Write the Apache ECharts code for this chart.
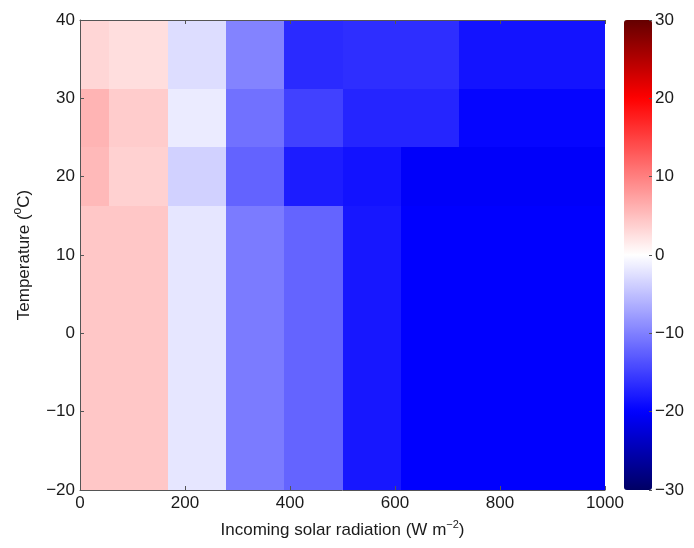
<!DOCTYPE html>
<html>
<head>
<meta charset="utf-8">
<script src="https://cdn.jsdelivr.net/npm/echarts@6/dist/echarts.min.js"></script>
<style>
html,body{margin:0;padding:0;background:#fff;}
#c{width:694px;height:548px;}
</style>
</head>
<body>
<div id="c"></div>
<script>
// Bin edges of the cells (solar radiation, W m-2) and temperature (deg C)
const radiationEdges = [0, 55.6, 166.7, 277.8, 388.9, 500, 611.1, 722.2, 833.3, 944.4, 1000];
const temperatureEdges = [-20, 16.25, 23.75, 31.25, 40];

// Cell values, one array per temperature band (bottom to top), one value per radiation bin
const bandBelow16 = [4.4, 4.4, -2.0, -10.4, -12.2, -18.2, -20.0, -20.0, -20.0, -20.0];
const band16to24  = [5.5, 3.6, -3.6, -12.3, -17.8, -18.6, -20.3, -20.3, -20.3, -20.3];
const band24to31  = [5.9, 4.0, -1.6, -11.2, -14.9, -17.1, -17.1, -19.6, -19.6, -19.6];
const band31to40  = [3.2, 2.6, -2.7, -9.8, -16.7, -16.4, -16.4, -18.5, -18.5, -18.5];
const bands = [bandBelow16, band16to24, band24to31, band31to40];

const xTicks = {min: 0, max: 1000, interval: 200};
const yTicks = {min: -20, max: 40, interval: 10};
const cbTicks = {min: -30, max: 30, interval: 10};

const data = [];
bands.forEach((row, yi) => row.forEach((v, xi) => data.push([xi, yi, v])));

const FONT = 'Liberation Sans, Arial, Helvetica, sans-serif';
const minus = v => String(v).replace('-', '\u2212');

const chart = echarts.init(document.getElementById('c'), null, {renderer: 'canvas'});

function renderItem(params, api) {
  const xi = api.value(0), yi = api.value(1);
  const p0 = api.coord([radiationEdges[xi], temperatureEdges[yi + 1]]);
  const p1 = api.coord([radiationEdges[xi + 1], temperatureEdges[yi]]);
  const x0 = Math.round(p0[0]), y0 = Math.round(p0[1]);
  const x1 = Math.round(p1[0]), y1 = Math.round(p1[1]);
  return {
    type: 'rect',
    shape: {x: x0, y: y0, width: x1 - x0, height: y1 - y0},
    style: {fill: api.visual('color')}
  };
}

const labelStyle = {color: '#1a1a1a', fontSize: 17, fontFamily: FONT};

chart.setOption({
  animation: false,
  backgroundColor: '#fff',
  grid: [
    {left: 80, top: 20, width: 525, height: 470},
    {left: 624, top: 20, width: 28, height: 470, show: false}
  ],
  xAxis: [
    {
      type: 'value', gridIndex: 0, min: xTicks.min, max: xTicks.max, interval: xTicks.interval,
      name: 'Incoming solar radiation (W m{sup|\u22122})',
      nameLocation: 'middle', nameGap: 29,
      nameTextStyle: {color: '#1a1a1a', fontSize: 17, fontFamily: FONT,
        rich: {sup: {fontSize: 11, fontFamily: FONT, color: '#1a1a1a', verticalAlign: 'top', padding: [0, 0, 12, 0]}}},
      axisLine: {show: true, onZero: false, lineStyle: {color: '#555', width: 1}},
      axisTick: {show: true, inside: true, length: 4, lineStyle: {color: '#555'}},
      axisLabel: Object.assign({margin: 5, formatter: v => String(v)}, labelStyle),
      splitLine: {show: false}, z: 5
    },
    {
      type: 'value', gridIndex: 0, position: 'top', min: xTicks.min, max: xTicks.max, interval: xTicks.interval,
      axisLine: {show: true, onZero: false, lineStyle: {color: '#555', width: 1}},
      axisTick: {show: true, inside: true, length: 4, lineStyle: {color: '#555'}},
      axisLabel: {show: false}, splitLine: {show: false}, z: 5
    },
    {
      type: 'value', gridIndex: 1, min: 0, max: 1, show: false
    }
  ],
  yAxis: [
    {
      type: 'value', gridIndex: 0, min: yTicks.min, max: yTicks.max, interval: yTicks.interval,
      name: 'Temperature ({sup|o}C)',
      nameLocation: 'middle', nameGap: 44, nameRotate: 90,
      nameTextStyle: {color: '#1a1a1a', fontSize: 17, fontFamily: FONT,
        rich: {sup: {fontSize: 12, fontFamily: FONT, color: '#1a1a1a', verticalAlign: 'top', padding: [0, 0, 12, 0]}}},
      axisLine: {show: true, onZero: false, lineStyle: {color: '#555', width: 1}},
      axisTick: {show: true, inside: true, length: 4, lineStyle: {color: '#555'}},
      axisLabel: Object.assign({margin: 5, formatter: minus}, labelStyle),
      splitLine: {show: false}, z: 5
    },
    {
      type: 'value', gridIndex: 1, position: 'right', min: cbTicks.min, max: cbTicks.max, interval: cbTicks.interval,
      axisLine: {show: false, onZero: false},
      axisTick: {show: true, inside: true, length: 3, lineStyle: {color: '#555'}},
      axisLabel: Object.assign({margin: 3, formatter: minus}, labelStyle),
      splitLine: {show: false}, z: 5
    }
  ],
  visualMap: {
    type: 'continuous',
    min: cbTicks.min, max: cbTicks.max,
    seriesIndex: 0, dimension: 2,
    calculable: false, orient: 'vertical',
    left: 624, top: 20, itemWidth: 28, itemHeight: 470, padding: 0,
    text: null, showLabel: false,
    inRange: {color: ['#000064', '#0000ff', '#8080ff', '#ffffff', '#ff8080', '#ff0000', '#640000']}
  },
  series: [{
    type: 'custom',
    xAxisIndex: 0, yAxisIndex: 0,
    renderItem: renderItem,
    encode: {x: -1, y: -1},
    clip: true,
    data: data,
    z: 1
  }]
});
</script>
</body>
</html>
